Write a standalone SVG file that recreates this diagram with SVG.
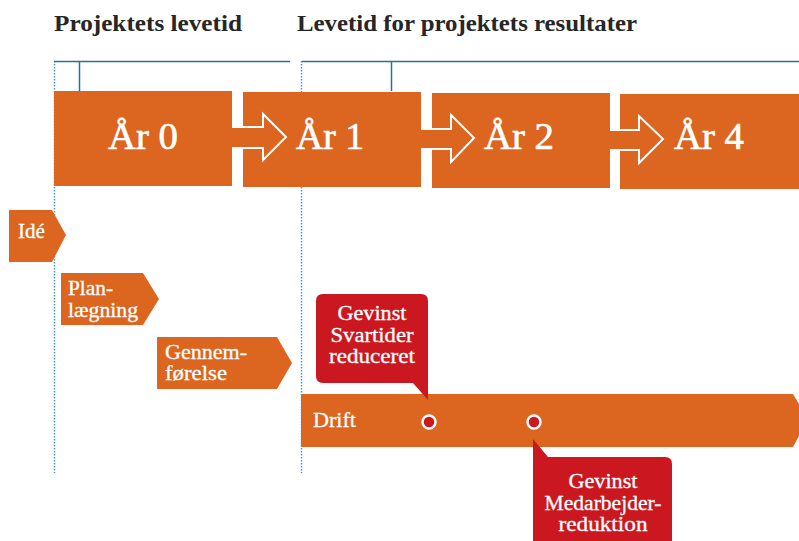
<svg xmlns="http://www.w3.org/2000/svg" width="799" height="541" viewBox="0 0 799 541">
  <style>
    .orange { fill: #DC651F; }
    .red { fill: #CB1820; }
    .head { font-family: "Liberation Serif", "DejaVu Serif", serif; font-weight: bold; font-size: 23px; fill: #262626; }
    .year { font-family: "Liberation Serif", "DejaVu Serif", serif; font-size: 38px; fill: #ffffff; stroke: #ffffff; stroke-width: 0.7; }
    .lbl { font-family: "Liberation Serif", "DejaVu Serif", serif; font-size: 20px; fill: #ffffff; stroke: #ffffff; stroke-width: 0.3; }
    .call { font-family: "Liberation Serif", "DejaVu Serif", serif; font-size: 20px; fill: #ffffff; stroke: #ffffff; stroke-width: 0.3; text-anchor: middle; }
    .guide { stroke: #4A9CC4; stroke-width: 1.5; stroke-dasharray: 1.5 1.5; fill: none; }
    .bracket { stroke: #2B6F99; stroke-width: 1.5; fill: none; }
    .flow { fill: #DC651F; stroke: #ffffff; stroke-width: 2; stroke-linejoin: miter; }
    .dot { fill: #CB1820; stroke: #ffffff; stroke-width: 2.5; }
  </style>

  <!-- section headings -->
  <g id="headings">
    <text class="head" x="54" y="31" textLength="188" lengthAdjust="spacingAndGlyphs">Projektets levetid</text>
    <text class="head" x="297" y="31" textLength="340" lengthAdjust="spacingAndGlyphs">Levetid for projektets resultater</text>
  </g>

  <!-- dotted guide lines and brackets -->
  <g id="guides">
    <line class="guide" x1="54.5" y1="61" x2="54.5" y2="473"/>
    <line class="guide" x1="301.5" y1="61" x2="301.5" y2="473"/>
    <path class="bracket" d="M54,61.5 H290 M79.5,61 V91"/>
    <path class="bracket" d="M302,61.5 H799 M391.5,61 V91"/>
  </g>

  <!-- year blocks -->
  <g id="year0">
    <rect class="orange" x="54" y="91" width="178" height="95"/>
    <text class="year" x="108" y="149" textLength="70" lengthAdjust="spacingAndGlyphs">År 0</text>
  </g>
  <g id="year1">
    <rect class="orange" x="243" y="92" width="178" height="95"/>
  </g>
  <g id="year2">
    <rect class="orange" x="432" y="93" width="178" height="95"/>
  </g>
  <g id="year4">
    <rect class="orange" x="620" y="94" width="179" height="95"/>
  </g>

  <!-- connectors: outlined block arrows between the years -->
  <g id="connectors">
    <path class="flow" d="M232,127 H263 V114 L286,137 L263,160 V148 H232"/>
    <path class="flow" d="M421,129 H451 V115 L474,138 L451,162 V149 H421"/>
    <path class="flow" d="M610,130 H639 V116 L663,139 L639,163 V150 H610"/>
  </g>

  <g id="year-labels">
    <text class="year" x="296" y="149" textLength="68" lengthAdjust="spacingAndGlyphs">År 1</text>
    <text class="year" x="484" y="149" textLength="70" lengthAdjust="spacingAndGlyphs">År 2</text>
    <text class="year" x="674" y="149" textLength="70" lengthAdjust="spacingAndGlyphs">År 4</text>
  </g>

  <!-- project phases -->
  <g id="ide">
    <path class="orange" d="M9,210 H52 L66,235 L52,262 H9 Z"/>
    <text class="lbl" x="18" y="237.5" textLength="27" lengthAdjust="spacingAndGlyphs">Idé</text>
  </g>
  <g id="planlaegning">
    <path class="orange" d="M61,273 H143 L159,299 L143,325 H61 Z"/>
    <text class="lbl" x="68" y="295" textLength="45" lengthAdjust="spacingAndGlyphs">Plan-</text>
    <text class="lbl" x="68" y="317" textLength="70" lengthAdjust="spacingAndGlyphs">lægning</text>
  </g>
  <g id="gennemfoerelse">
    <path class="orange" d="M157,337 H277 L292,363 L277,389 H157 Z"/>
    <text class="lbl" x="165" y="359" textLength="82" lengthAdjust="spacingAndGlyphs">Gennem-</text>
    <text class="lbl" x="165" y="380" textLength="62" lengthAdjust="spacingAndGlyphs">førelse</text>
  </g>

  <!-- operation bar -->
  <g id="drift">
    <path class="orange" d="M301,394 H793 L799,404 V436 L793,447 H301 Z"/>
    <text class="lbl" x="313" y="427" textLength="43" lengthAdjust="spacingAndGlyphs">Drift</text>
    <circle class="dot" cx="429" cy="422" r="6.5"/>
    <circle class="dot" cx="534" cy="422" r="6.5"/>
  </g>

  <!-- benefit callouts -->
  <g id="gevinst-svartider">
    <path class="red" d="M323,294 H421 Q428,294 428,301 V400 L413,383 H323 Q316,383 316,376 V301 Q316,294 323,294 Z"/>
    <text class="call" x="372" y="320" textLength="69" lengthAdjust="spacingAndGlyphs">Gevinst</text>
    <text class="call" x="372" y="342" textLength="83" lengthAdjust="spacingAndGlyphs">Svartider</text>
    <text class="call" x="372" y="363" textLength="86" lengthAdjust="spacingAndGlyphs">reduceret</text>
  </g>
  <g id="gevinst-medarbejder">
    <path class="red" d="M533,439 L548,457 H665 Q672,457 672,464 V545 H533 Z"/>
    <text class="call" x="603" y="488" textLength="69" lengthAdjust="spacingAndGlyphs">Gevinst</text>
    <text class="call" x="603" y="510" textLength="117" lengthAdjust="spacingAndGlyphs">Medarbejder-</text>
    <text class="call" x="603" y="531" textLength="89" lengthAdjust="spacingAndGlyphs">reduktion</text>
  </g>
</svg>
